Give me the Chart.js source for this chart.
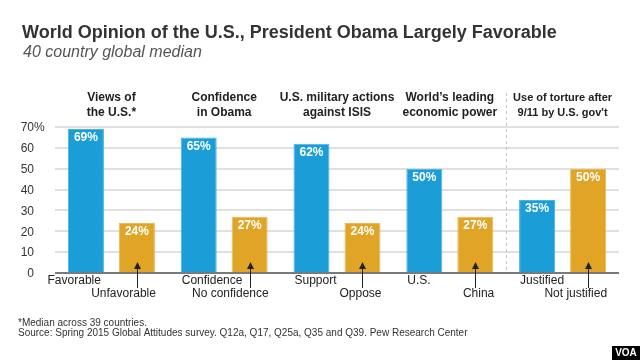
<!DOCTYPE html>
<html><head><meta charset="utf-8">
<script src="https://cdn.jsdelivr.net/npm/chart.js@4.4.1/dist/chart.umd.min.js"></script>
<style>
html,body{margin:0;padding:0;background:#fff;}
#wrap{position:relative;width:640px;height:360px;overflow:hidden;background:#fff;}
canvas{position:absolute;left:0;top:0;}
</style></head>
<body><div id="wrap"><canvas id="c" width="640" height="360"></canvas></div>
<script>
const titleText = 'World Opinion of the U.S., President Obama Largely Favorable';
const subtitleText = '40 country global median';
const groupHeaders = [['Views of','the U.S.*'],['Confidence','in Obama'],['U.S. military actions','against ISIS'],['World\u2019s leading','economic power'],['Use of torture after',"9/11 by U.S. gov't"]];
const positiveLabels = ['Favorable','Confidence','Support','U.S.','Justified'];
const negativeLabels = ['Unfavorable','No confidence','Oppose','China','Not justified'];
const positiveValues = [69,65,62,50,35];
const negativeValues = [24,27,24,27,50];
const yTickLabels = ['0','10','20','30','40','50','60','70%'];
const footnotes = ['*Median across 39 countries.','Source: Spring 2015 Global Attitudes survey. Q12a, Q17, Q25a, Q35 and Q39. Pew Research Center'];

const FONT = '"Liberation Sans", Arial, Helvetica, sans-serif';
const BLUE = '#1b9dd8', ORANGE = '#e0a527';
const headerSizes = [12,12,12,12,11];
const positiveAlign = ['right','left','left','left','left'];

const annot = {
  id: 'annot',
  afterDraw(chart){
    const ctx = chart.ctx, xs = chart.scales.x, ys = chart.scales.y, ca = chart.chartArea;
    const m0 = chart.getDatasetMeta(0).data, m1 = chart.getDatasetMeta(1).data;
    ctx.save();
    // title & subtitle
    ctx.textAlign = 'left'; ctx.textBaseline = 'alphabetic';
    ctx.fillStyle = '#333'; ctx.font = 'bold 18px ' + FONT;
    ctx.fillText(titleText, 22, 38);
    ctx.fillStyle = '#555'; ctx.font = 'italic 16px ' + FONT;
    ctx.fillText(subtitleText, 23, 57);
    // y tick labels
    ctx.fillStyle = '#333'; ctx.font = '12px ' + FONT; ctx.textBaseline = 'middle';
    ys.ticks.forEach((t, i) => {
      const py = ys.getPixelForValue(t.value) + 1;
      const lab = yTickLabels[i] || String(t.value);
      const num = lab.replace('%', '');
      ctx.textAlign = 'right'; ctx.fillText(num, 34, py);
      if (lab.endsWith('%')) { ctx.textAlign = 'left'; ctx.fillText('%', 34, py); }
    });
    // dashed separator between last two groups
    const sepX = Math.round((xs.getPixelForValue(3) + xs.getPixelForValue(4)) / 2) + 0.5;
    ctx.strokeStyle = '#c4c4c4'; ctx.lineWidth = 1; ctx.setLineDash([3, 3]);
    ctx.beginPath(); ctx.moveTo(sepX, 93); ctx.lineTo(sepX, ca.bottom); ctx.stroke();
    ctx.setLineDash([]);
    // group headers
    ctx.fillStyle = '#222'; ctx.textAlign = 'center'; ctx.textBaseline = 'middle';
    groupHeaders.forEach((lines, i) => {
      const cx = (m0[i].x + m1[i].x) / 2;
      ctx.font = 'bold ' + headerSizes[i] + 'px ' + FONT;
      lines.forEach((ln, j) => ctx.fillText(ln, cx, 98 + j * 15));
    });
    // value labels
    ctx.fillStyle = '#fff'; ctx.font = 'bold 12px ' + FONT;
    [[m0, positiveValues], [m1, negativeValues]].forEach(([els, vals]) => {
      els.forEach((el, i) => ctx.fillText(vals[i] + '%', el.x, el.y + 9));
    });
    // category labels
    ctx.fillStyle = '#222'; ctx.font = '12px ' + FONT;
    m0.forEach((el, i) => {
      const w = el.width;
      if (positiveAlign[i] === 'left') { ctx.textAlign = 'left'; ctx.fillText(positiveLabels[i], el.x - w / 2 + 1, 281); }
      else { ctx.textAlign = 'right'; ctx.fillText(positiveLabels[i], el.x + w / 2 - 3, 281); }
    });
    m1.forEach((el, i) => {
      const w = el.width;
      ctx.textAlign = 'right'; ctx.fillText(negativeLabels[i], el.x + w / 2 + 1, 294);
      // arrow
      const ax = Math.round(el.x) + 0.5, tip = el.base - 10;
      ctx.strokeStyle = '#222'; ctx.lineWidth = 1;
      ctx.beginPath(); ctx.moveTo(ax, tip + 5); ctx.lineTo(ax, 288); ctx.stroke();
      ctx.beginPath(); ctx.moveTo(ax, tip); ctx.lineTo(ax - 3.5, tip + 7); ctx.lineTo(ax + 3.5, tip + 7); ctx.closePath(); ctx.fill();
    });
    // footnotes
    ctx.textAlign = 'left'; ctx.textBaseline = 'alphabetic'; ctx.fillStyle = '#333'; ctx.font = '10px ' + FONT;
    footnotes.forEach((f, i) => ctx.fillText(f, 18, 326 + i * 10));
    // VOA logo
    ctx.fillStyle = '#000'; ctx.fillRect(612, 346, 28, 14);
    ctx.fillStyle = '#fff'; ctx.font = 'bold 10px ' + FONT; ctx.textAlign = 'center'; ctx.textBaseline = 'middle';
    ctx.fillText('VOA', 626, 353.5);
    ctx.restore();
  }
};

new Chart(document.getElementById('c'), {
  type: 'bar',
  data: {
    labels: groupHeaders.map(h => h.join(' ')),
    datasets: [
      { data: positiveValues, backgroundColor: BLUE, borderColor: '#4cb2e2', borderWidth: 1 },
      { data: negativeValues, backgroundColor: ORANGE, borderColor: '#e9bb58', borderWidth: 1 }
    ]
  },
  options: {
    responsive: false, animation: false, devicePixelRatio: 1,
    layout: { padding: { left: 55, right: 21, top: 127, bottom: 87 } },
    categoryPercentage: 0.904, barPercentage: 0.706,
    plugins: { legend: { display: false }, tooltip: { enabled: false }, title: { display: false } },
    scales: {
      x: { display: false },
      y: {
        min: 0, max: 70,
        ticks: { display: false, stepSize: 10 },
        border: { display: false },
        grid: {
          drawTicks: false,
          color: c => c.tick && c.tick.value === 0 ? '#7a7a7a' : '#e0e0e0',
          lineWidth: 2
        }
      }
    }
  },
  plugins: [annot]
});
</script>
</body></html>
